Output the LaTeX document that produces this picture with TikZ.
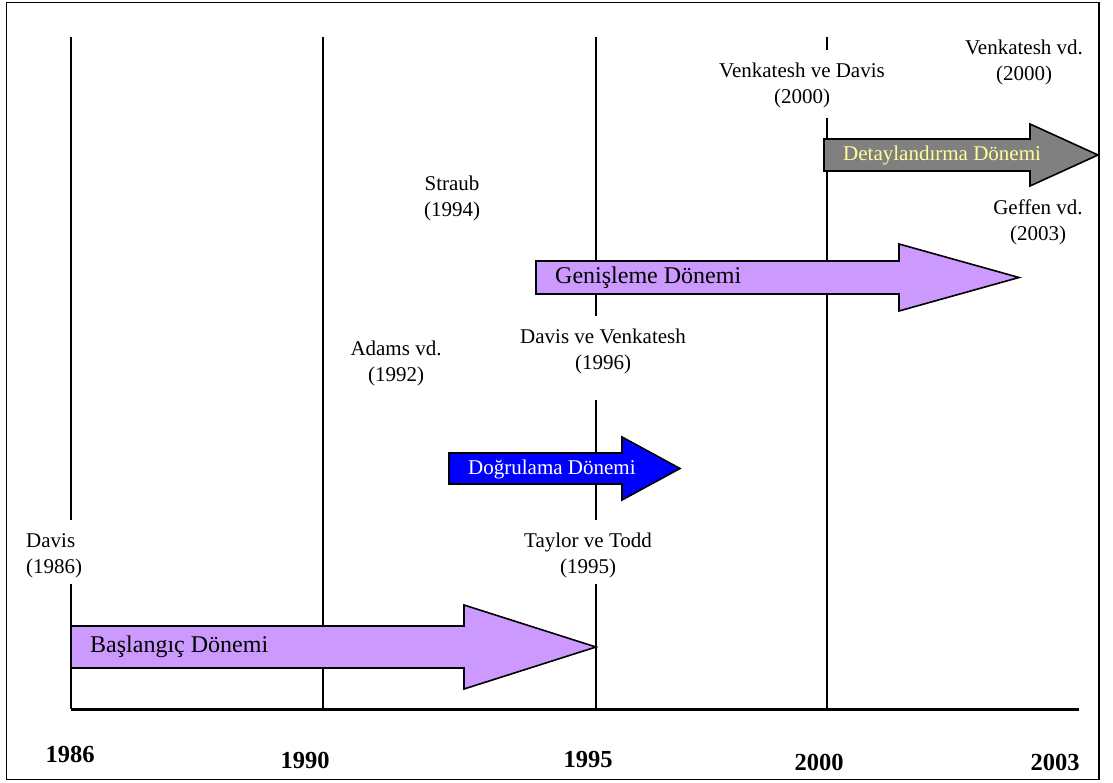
\documentclass[tikz,border=0pt]{standalone}
\usepackage{fontspec}
\setmainfont{Liberation Serif}
\begin{document}
\begin{tikzpicture}[x=1pt,y=-1pt,
  yearline/.style={line width=1.5pt,black},
  axisline/.style={line width=3pt,black},
  lbl/.style={font=\fontsize{21}{26}\selectfont,align=center,inner sep=0pt,text=black},
  yearlbl/.style={font=\fontsize{24.5}{27}\selectfont\bfseries,inner sep=0pt},
  bigarrow/.style={draw=black,line width=1.6pt,line join=miter},
  arrowtxt/.style={inner sep=0pt,anchor=west},
]
\definecolor{lilac}{RGB}{204,153,255}
\definecolor{paleyellow}{RGB}{255,255,153}
\definecolor{midgray}{RGB}{128,128,128}
\useasboundingbox (0,0) rectangle (1113,783);
\fill[white] (0,0) rectangle (1113,783);
% outer frame
\draw[line width=1.6pt] (6.5,2.5) rectangle (1099,779.5);

% year line end points
\coordinate (a1) at (71,37);  \coordinate (a2) at (71,520);
\coordinate (a3) at (71,584); \coordinate (a4) at (71,709);
\coordinate (b1) at (323,37); \coordinate (b2) at (323,709);
\coordinate (c1) at (596,37); \coordinate (c2) at (596,316);
\coordinate (c3) at (596,400); \coordinate (c4) at (596,520);
\coordinate (c5) at (596,584); \coordinate (c6) at (596,709);
\coordinate (d1) at (827,37); \coordinate (d2) at (827,50);
\coordinate (d3) at (827,118); \coordinate (d4) at (827,709);
\coordinate (axisend) at (1079,709);

% vertical year lines
\draw[yearline] (a1) -- (a2);
\draw[yearline] (a3) -- (a4);
\draw[yearline] (b1) -- (b2);
\draw[yearline] (c1) -- (c2);
\draw[yearline] (c3) -- (c4);
\draw[yearline] (c5) -- (c6);
\draw[yearline] (d1) -- (d2);
\draw[yearline] (d3) -- (d4);
% time axis
\draw[axisline] (a4) -- (axisend);

% period arrows
\draw[bigarrow,fill=lilac] (71,626) -- (464,626) -- (464,605) -- (596,647)
  -- (464,689) -- (464,668) -- (71,668) -- cycle;
\draw[bigarrow,fill=lilac] (536,261) -- (899,261) -- (899,244) -- (1019,277.5)
  -- (899,311) -- (899,294) -- (536,294) -- cycle;
\draw[bigarrow,fill=blue] (449,453) -- (622,453) -- (622,437) -- (680,468.5)
  -- (622,500) -- (622,484) -- (449,484) -- cycle;
\draw[bigarrow,fill=midgray] (824,139) -- (1030,139) -- (1030,124) -- (1098,155)
  -- (1030,186) -- (1030,171) -- (824,171) -- cycle;

% arrow captions
\node[arrowtxt,font=\fontsize{24}{28}\selectfont] (baslangic) at (90,647) {Başlangıç Dönemi};
\node[arrowtxt,font=\fontsize{24}{28}\selectfont] (genisleme) at (555,278) {Genişleme Dönemi};
\node[arrowtxt,font=\fontsize{21}{26}\selectfont,text=white] (dogrulama) at (468,469) {Doğrulama Dönemi};
\node[arrowtxt,font=\fontsize{21}{26}\selectfont,text=paleyellow] (detay) at (843,155) {Detaylandırma Dönemi};

% study labels
\node[lbl] (venvd) at (1024,62) {Venkatesh vd.\\(2000)};
\node[lbl] (vendavis) at (802,85) {Venkatesh ve Davis\\(2000)};
\node[lbl] (straub) at (452,198.5) {Straub\\(1994)};
\node[lbl] (geffen) at (1038,222.5) {Geffen vd.\\(2003)};
\node[lbl] (davven) at (603,351) {Davis ve Venkatesh\\(1996)};
\node[lbl] (adams) at (396,363) {Adams vd.\\(1992)};
\node[lbl,align=left,anchor=west] (davis) at (26,555.5) {Davis\\(1986)};
\node[lbl] (taylor) at (588,555.5) {Taylor ve Todd\\(1995)};

% axis years
\node[yearlbl] (y1986) at (70,754) {1986};
\node[yearlbl] (y1990) at (305,760) {1990};
\node[yearlbl] (y1995) at (588,760) {1995};
\node[yearlbl] (y2000) at (819,762) {2000};
\node[yearlbl] (y2003) at (1055,762) {2003};
\end{tikzpicture}
\end{document}
